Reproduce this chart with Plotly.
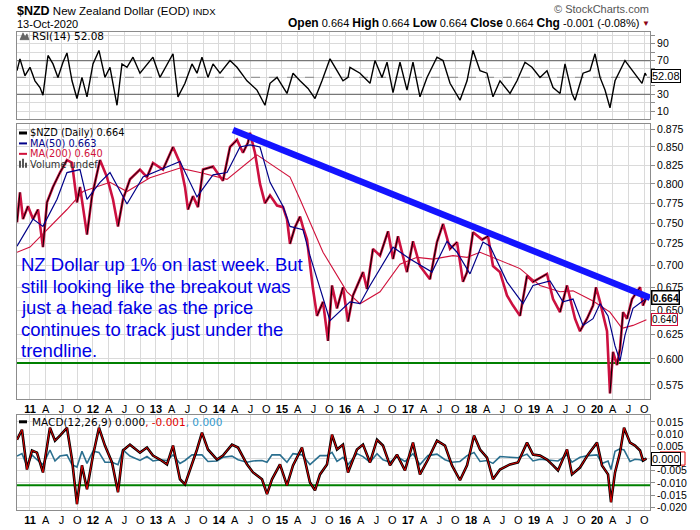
import math
import plotly.graph_objects as go

# ---------------- data (time in decimal years) ----------------
price_t = [2010.794, 2010.841, 2010.889, 2010.968, 2011.048, 2011.127, 2011.206, 2011.270, 2011.365, 2011.476,
           2011.587, 2011.667, 2011.746, 2011.794, 2011.905, 2011.984, 2012.111, 2012.222, 2012.317, 2012.397,
           2012.476, 2012.587, 2012.746, 2012.857, 2012.952, 2013.111, 2013.270, 2013.381, 2013.460, 2013.508,
           2013.587, 2013.667, 2013.746, 2013.905, 2014.063, 2014.175, 2014.286, 2014.381, 2014.460, 2014.492,
           2014.571, 2014.651, 2014.730, 2014.810, 2014.921, 2015.016, 2015.079, 2015.127, 2015.206, 2015.286,
           2015.333, 2015.397, 2015.492, 2015.556, 2015.651, 2015.730, 2015.794, 2015.873, 2015.968, 2016.048,
           2016.127, 2016.286, 2016.349, 2016.444, 2016.556, 2016.683, 2016.762, 2016.841, 2016.984, 2017.079,
           2017.190, 2017.349, 2017.460, 2017.556, 2017.667, 2017.778, 2017.873, 2017.937, 2018.032, 2018.175,
           2018.270, 2018.349, 2018.460, 2018.571, 2018.667, 2018.778, 2018.889, 2018.984, 2019.206, 2019.302,
           2019.413, 2019.524, 2019.651, 2019.730, 2019.841, 2019.937, 2019.984, 2020.048, 2020.159, 2020.206,
           2020.254, 2020.317, 2020.365, 2020.413, 2020.476, 2020.556, 2020.683, 2020.730, 2020.784]
price_v = [0.751, 0.789, 0.755, 0.771, 0.755, 0.767, 0.721, 0.776, 0.796, 0.815,
           0.832, 0.828, 0.776, 0.796, 0.736, 0.784, 0.832, 0.809, 0.780, 0.746,
           0.780, 0.806, 0.819, 0.809, 0.828, 0.819, 0.850, 0.828, 0.796, 0.767,
           0.784, 0.770, 0.819, 0.823, 0.804, 0.850, 0.860, 0.842, 0.856, 0.870,
           0.842, 0.800, 0.775, 0.785, 0.772, 0.770, 0.755, 0.725, 0.745, 0.758,
           0.745, 0.730, 0.673, 0.644, 0.659, 0.618, 0.677, 0.652, 0.675, 0.638,
           0.666, 0.692, 0.673, 0.719, 0.711, 0.740, 0.707, 0.734, 0.692, 0.728,
           0.699, 0.684, 0.727, 0.749, 0.719, 0.727, 0.681, 0.692, 0.739, 0.730,
           0.734, 0.699, 0.692, 0.666, 0.655, 0.644, 0.688, 0.681, 0.690, 0.662,
           0.648, 0.677, 0.641, 0.628, 0.641, 0.655, 0.675, 0.659, 0.628, 0.567,
           0.607, 0.594, 0.610, 0.648, 0.641, 0.662, 0.675, 0.655, 0.664]

ma50_t = [2010.794, 2011.048, 2011.206, 2011.429, 2011.587, 2011.794, 2011.905, 2012.111, 2012.270, 2012.540,
          2012.794, 2013.063, 2013.381, 2013.651, 2013.905, 2014.127, 2014.333, 2014.492, 2014.651, 2014.810,
          2015.016, 2015.127, 2015.333, 2015.444, 2015.762, 2016.079, 2016.238, 2016.397, 2016.762, 2017.032,
          2017.381, 2017.619, 2017.778, 2017.984, 2018.190, 2018.302, 2018.571, 2018.825, 2018.984, 2019.254,
          2019.460, 2019.619, 2019.778, 2019.937, 2020.048, 2020.175, 2020.286, 2020.365, 2020.444, 2020.571,
          2020.784]
ma50_v = [0.722, 0.755, 0.746, 0.780, 0.815, 0.819, 0.780, 0.802, 0.815, 0.774,
          0.809, 0.819, 0.830, 0.783, 0.812, 0.815, 0.850, 0.853, 0.850, 0.802,
          0.771, 0.746, 0.742, 0.711, 0.639, 0.659, 0.657, 0.677, 0.721, 0.707,
          0.692, 0.728, 0.715, 0.690, 0.727, 0.722, 0.681, 0.657, 0.677, 0.682,
          0.659, 0.662, 0.634, 0.641, 0.657, 0.644, 0.613, 0.598, 0.624, 0.652,
          0.663]

ma200_t = [2010.794, 2011.000, 2011.587, 2011.841, 2012.270, 2012.540, 2012.905, 2013.381, 2013.698, 2014.127,
           2014.603, 2015.127, 2015.286, 2015.651, 2016.032, 2016.238, 2016.556, 2016.873, 2017.143, 2017.397,
           2017.714, 2017.937, 2018.143, 2018.460, 2018.778, 2019.095, 2019.413, 2019.619, 2019.937, 2020.206,
           2020.397, 2020.571, 2020.784]
ma200_v = [0.715, 0.721, 0.767, 0.790, 0.802, 0.790, 0.808, 0.821, 0.815, 0.806,
           0.839, 0.809, 0.780, 0.715, 0.670, 0.657, 0.670, 0.701, 0.709, 0.707,
           0.711, 0.709, 0.715, 0.705, 0.696, 0.677, 0.670, 0.671, 0.660, 0.648,
           0.631, 0.634, 0.640]

trend_t = [2014.222, 2020.841]
trend_v = [0.874, 0.6634]
support_level = 0.596

rsi_t = [2010.794, 2010.841, 2010.921, 2011.000, 2011.079, 2011.159, 2011.206, 2011.286, 2011.365, 2011.444,
         2011.524, 2011.587, 2011.667, 2011.746, 2011.825, 2011.905, 2012.000, 2012.095, 2012.190, 2012.270,
         2012.381, 2012.460, 2012.540, 2012.635, 2012.746, 2012.857, 2012.952, 2013.063, 2013.175, 2013.270,
         2013.349, 2013.460, 2013.571, 2013.651, 2013.730, 2013.825, 2013.905, 2014.016, 2014.175, 2014.286,
         2014.444, 2014.603, 2014.730, 2014.810, 2014.921, 2015.079, 2015.175, 2015.286, 2015.413, 2015.524,
         2015.635, 2015.762, 2015.873, 2015.968, 2016.048, 2016.079, 2016.238, 2016.397, 2016.476, 2016.587,
         2016.667, 2016.762, 2016.873, 2016.984, 2017.079, 2017.190, 2017.302, 2017.460, 2017.556, 2017.667,
         2017.825, 2017.937, 2018.032, 2018.143, 2018.254, 2018.349, 2018.460, 2018.619, 2018.730, 2018.857,
         2018.968, 2019.095, 2019.206, 2019.302, 2019.413, 2019.492, 2019.603, 2019.651, 2019.778, 2019.889,
         2019.968, 2020.048, 2020.127, 2020.206, 2020.286, 2020.365, 2020.444, 2020.524, 2020.635, 2020.714,
         2020.762, 2020.784]
rsi_v = [58, 72, 52, 62, 46, 38, 29, 76, 66, 50,
         68, 79, 46, 25, 50, 27, 66, 82, 50, 62,
         17, 66, 62, 74, 55, 66, 74, 50, 66, 78,
         27, 43, 66, 55, 74, 50, 66, 55, 70, 62,
         46, 35, 17, 43, 50, 31, 55, 46, 37, 25,
         46, 72, 58, 46, 50, 62, 55, 43, 70, 50,
         68, 32, 68, 35, 68, 27, 50, 74, 70, 43,
         23, 46, 82, 58, 55, 27, 46, 31, 46, 68,
         62, 50, 58, 38, 31, 66, 31, 23, 55, 58,
         78, 50, 35, 14, 46, 58, 70, 62, 50, 43,
         55, 52.08]

macd_t = [2010.794, 2010.873, 2010.952, 2011.032, 2011.111, 2011.206, 2011.317, 2011.397, 2011.476, 2011.587,
          2011.667, 2011.746, 2011.825, 2011.905, 2012.000, 2012.095, 2012.190, 2012.302, 2012.397, 2012.476,
          2012.587, 2012.746, 2012.857, 2012.952, 2013.063, 2013.175, 2013.270, 2013.381, 2013.460, 2013.571,
          2013.651, 2013.730, 2013.825, 2013.968, 2014.063, 2014.206, 2014.302, 2014.444, 2014.540, 2014.683,
          2014.762, 2014.841, 2014.968, 2015.079, 2015.175, 2015.317, 2015.444, 2015.524, 2015.603, 2015.714,
          2015.794, 2015.873, 2015.968, 2016.048, 2016.190, 2016.286, 2016.397, 2016.508, 2016.603, 2016.714,
          2016.825, 2016.952, 2017.079, 2017.190, 2017.317, 2017.460, 2017.587, 2017.698, 2017.825, 2017.937,
          2018.048, 2018.143, 2018.254, 2018.349, 2018.460, 2018.619, 2018.746, 2018.889, 2018.984, 2019.095,
          2019.206, 2019.302, 2019.381, 2019.524, 2019.603, 2019.730, 2019.857, 2020.000, 2020.079, 2020.175,
          2020.222, 2020.286, 2020.365, 2020.429, 2020.524, 2020.603, 2020.683, 2020.730, 2020.784]
macd_v = [0.0077, 0.0118, -0.0045, 0.0033, 0.0024, -0.0057, 0.0126, 0.0073, 0.0094, 0.0126,
          -0.0004, -0.0187, -0.0028, -0.0126, 0.0012, 0.0126, 0.0053, -0.0016, -0.0138, 0.0033,
          0.0057, 0.0024, 0.0045, 0.0012, -0.0004, -0.0024, 0.0053, -0.0085, -0.0106, -0.0024,
          0.0037, 0.0106, 0.0037, -0.0004, 0.0012, 0.0057, 0.0045, -0.0024, -0.0057, -0.0085,
          -0.0146, -0.0085, -0.0024, -0.0110, -0.0028, 0.0045, -0.0098, -0.0130, -0.0065, -0.0024,
          0.0098, 0.0037, 0.0057, -0.0057, 0.0037, 0.0057, -0.0016, 0.0077, 0.0053, -0.0028,
          0.0016, -0.0049, 0.0065, -0.0065, -0.0004, 0.0073, 0.0053, -0.0028, -0.0089, -0.0028,
          0.0094, 0.0037, 0.0004, -0.0085, -0.0045, -0.0024, -0.0016, 0.0065, 0.0016, 0.0012,
          -0.0004, -0.0028, -0.0049, 0.0037, -0.0065, -0.0037, 0.0016, 0.0065, -0.0028, -0.0065,
          -0.0179, -0.0057, 0.0024, 0.0126, 0.0065, 0.0053, 0.0033, -0.0008, 0.0000]
macd_hist = [0.0010, 0.0020, -0.0030, 0.0015, -0.0005, -0.0025, 0.0035, -0.0010, 0.0010, 0.0015,
             -0.0025, -0.0035, 0.0030, -0.0020, 0.0030, 0.0025, -0.0015, -0.0015, -0.0025, 0.0035,
             0.0010, -0.0008, 0.0008, -0.0010, -0.0005, -0.0008, 0.0015, -0.0020, -0.0008, 0.0015,
             0.0015, 0.0015, -0.0012, -0.0010, 0.0005, 0.0010, -0.0005, -0.0015, -0.0010, -0.0008,
             -0.0015, 0.0015, 0.0015, -0.0015, 0.0020, 0.0015, -0.0025, -0.0008, 0.0012, 0.0012,
             0.0025, -0.0012, 0.0005, -0.0025, 0.0020, 0.0008, -0.0015, 0.0020, -0.0005, -0.0015,
             0.0008, -0.0012, 0.0020, -0.0025, 0.0012, 0.0018, -0.0005, -0.0015, -0.0012, 0.0012,
             0.0025, -0.0012, -0.0008, -0.0020, 0.0008, 0.0005, 0.0003, 0.0018, -0.0010, -0.0003,
             -0.0005, -0.0008, -0.0010, 0.0015, -0.0015, 0.0005, 0.0012, 0.0015, -0.0020, -0.0010,
             -0.0045, 0.0030, 0.0040, 0.0035, -0.0012, -0.0003, -0.0005, -0.0010, 0.0002]
macd_support = -0.011

years = list(range(2011, 2021))
month_letters = ["A", "J", "O"]

# ---------------- layout helpers ----------------
W, H = 700, 530
def px(x):
    return x / W
def py(y):
    return 1 - y / H

T_RANGE = [2010.794, 2020.841]
tickvals_x, ticktext_x = [], []
for y in years:
    tickvals_x.append(y); ticktext_x.append("<b>%02d</b>" % (y % 100))
    for k, m in enumerate(month_letters):
        tickvals_x.append(y + 0.25 * (k + 1)); ticktext_x.append(m)

GRID = "#dadada"
FRAME = "#8c8c8c"
RED = "#cc1040"
NAVY = "#000088"
CRIMSON = "#d0103a"
ARIAL = "Liberation Sans, Arial, sans-serif"
VERD = "DejaVu Sans, Verdana, sans-serif"

fig = go.Figure()

# RSI panel
for lvl, dash, col in [(70, "solid", "#777"), (30, "solid", "#777"), (50, "dash", "#999")]:
    fig.add_trace(go.Scatter(x=T_RANGE, y=[lvl, lvl], mode="lines", line=dict(color=col, width=1.2, dash=dash),
                             xaxis="x", yaxis="y", hoverinfo="skip"))
fig.add_trace(go.Scatter(x=rsi_t, y=rsi_v, mode="lines", line=dict(color="black", width=1.4),
                         xaxis="x", yaxis="y", name="RSI"))

# Main panel
fig.add_trace(go.Scatter(x=T_RANGE, y=[support_level, support_level], mode="lines",
                         line=dict(color="#008000", width=2), xaxis="x2", yaxis="y2", hoverinfo="skip"))
fig.add_trace(go.Scatter(x=ma200_t, y=ma200_v, mode="lines", line=dict(color=CRIMSON, width=1.1),
                         xaxis="x2", yaxis="y2", name="MA200"))
fig.add_trace(go.Scatter(x=price_t, y=price_v, mode="lines", line=dict(color=RED, width=2.6),
                         xaxis="x2", yaxis="y2", name="$NZD"))
up_t, up_v = [], []
for i in range(len(price_v) - 1):
    if price_v[i + 1] > price_v[i]:
        up_t += [price_t[i], price_t[i + 1], None]
        up_v += [price_v[i], price_v[i + 1], None]
fig.add_trace(go.Scatter(x=up_t, y=up_v, mode="lines", line=dict(color="black", width=1.0),
                         xaxis="x2", yaxis="y2", hoverinfo="skip", connectgaps=False))
fig.add_trace(go.Scatter(x=ma50_t, y=ma50_v, mode="lines", line=dict(color=NAVY, width=1.2),
                         xaxis="x2", yaxis="y2", name="MA50"))
fig.add_trace(go.Scatter(x=trend_t, y=trend_v, mode="lines", line=dict(color="#1414ff", width=6.5),
                         xaxis="x2", yaxis="y2", hoverinfo="skip"))

# MACD panel
fig.add_trace(go.Scatter(x=T_RANGE, y=[macd_support, macd_support], mode="lines",
                         line=dict(color="#008000", width=2), xaxis="x3", yaxis="y3", hoverinfo="skip"))
fig.add_trace(go.Scatter(x=macd_t, y=macd_hist, mode="lines", line=dict(color="#2a6f8f", width=1.6),
                         xaxis="x3", yaxis="y3", name="Hist"))
fig.add_trace(go.Scatter(x=macd_t, y=macd_v, mode="lines", line=dict(color="black", width=2.6),
                         xaxis="x3", yaxis="y3", name="MACD"))
fig.add_trace(go.Scatter(x=macd_t, y=macd_v, mode="lines", line=dict(color="#e00000", width=1),
                         xaxis="x3", yaxis="y3", name="Signal"))

xcommon = dict(range=T_RANGE, tickmode="array", tickvals=tickvals_x, ticktext=ticktext_x,
               showgrid=True, gridcolor=GRID, gridwidth=1, zeroline=False, showline=True,
               linecolor=FRAME, linewidth=1, mirror=True, ticks="",
               tickfont=dict(family=ARIAL, size=11, color="black"), domain=[px(17), px(650)])
ycommon = dict(side="right", showgrid=True, gridcolor=GRID, zeroline=False, showline=True,
               linecolor=FRAME, linewidth=1, mirror=True, ticks="outside", ticklen=4, tickcolor=FRAME,
               tickfont=dict(family=ARIAL, size=10.5, color="black"), tickmode="array")

rsi_ticks = list(range(10, 101, 10))
rsi_text = [str(v) if v in (10, 30, 70, 90) else "" for v in rsi_ticks]
main_ticks = [0.575, 0.6, 0.625, 0.65, 0.675, 0.7, 0.725, 0.75, 0.775, 0.8, 0.825, 0.85, 0.875]
main_text = ["%.3f" % v for v in main_ticks]
macd_ticks = [-0.02, -0.015, -0.01, -0.005, 0.0, 0.005, 0.01, 0.015]
macd_text = ["%.3f" % v if v != 0 else "" for v in macd_ticks]

fig.update_layout(
    width=W, height=H, autosize=False, margin=dict(l=0, r=0, t=0, b=0),
    paper_bgcolor="white", plot_bgcolor="white", showlegend=False,
    xaxis=dict(xcommon, anchor="y", showticklabels=False),
    xaxis2=dict(xcommon, anchor="y2", matches="x", showticklabels=True),
    xaxis3=dict(xcommon, anchor="y3", matches="x", showticklabels=True),
    yaxis=dict(ycommon, anchor="x", domain=[py(119), py(31)], range=[0.6, 104.1],
               tickvals=rsi_ticks, ticktext=rsi_text),
    yaxis2=dict(ycommon, anchor="x2", domain=[py(401), py(124)], type="log",
                range=[math.log10(0.5618), math.log10(0.8826)], tickvals=main_ticks, ticktext=main_text),
    yaxis3=dict(ycommon, anchor="x3", domain=[py(513), py(417)], range=[-0.02114, 0.01789],
                tickvals=macd_ticks, ticktext=macd_text),
)

ann = []
def text(x, y, s, size=11, color="black", family=ARIAL, xanchor="left", **kw):
    ann.append(dict(xref="paper", yref="paper", x=px(x), y=py(y), text=s, showarrow=False,
                    xanchor=xanchor, yanchor="middle", font=dict(size=size, color=color, family=family), **kw))

# header
text(15, 10, "<b><span style='font-size:12.5px'>$NZD</span></b> New Zealand Dollar (EOD) <span style='font-size:9.5px'>INDX</span>", size=11.5)
text(15, 23, "13-Oct-2020", size=11)
text(641, 22, "<b><span style='font-size:12px'>Open</span></b> 0.664 <b><span style='font-size:12px'>High</span></b> 0.664 "
              "<b><span style='font-size:12px'>Low</span></b> 0.664 <b><span style='font-size:12px'>Close</span></b> 0.664 "
              "<b><span style='font-size:12px'>Chg</span></b> -0.001 (-0.08%)", size=11, xanchor="right")
text(646, 23, "▼", size=8, color="#8b0015", xanchor="center")
text(651, 8, "© StockCharts.com", size=11, color="#555555", xanchor="right")

# RSI label
text(30, 35, "RSI(14) 52.08", size=10.5, family=VERD)
# main legend
LEG = 9.8
text(29, 133, "$NZD (Daily) 0.664", size=LEG, family=VERD, borderpad=0)
text(29, 143.5, "MA(50) 0.663", size=LEG, family=VERD, color=NAVY, borderpad=0)
text(29, 154, "MA(200) 0.640", size=LEG, family=VERD, color=CRIMSON, borderpad=0)
text(29, 164.5, "Volume undef", size=LEG, family=VERD, color="#333333", borderpad=0)
# MACD label
text(30, 424, "MACD(12,26,9) 0.000<span style='color:#e00000'>, -0.001</span><span style='color:#3399cc'>, 0.000</span>",
     size=10.5, family=VERD)

# commentary
for i, line in enumerate(["NZ Dollar up 1% on last week. But",
                          "still looking like the breakout was",
                          "just a head fake as the price",
                          "continues to track just under the",
                          "trendline."]):
    text(20, 265.5 + i * 21.7, line, size=18.5, color="#0000e6", borderpad=0)

# value boxes on right axes
ann.append(dict(xref="paper", yref="y", x=px(651), y=52.08, text="52.08", showarrow=False, xanchor="left",
                yanchor="middle", bordercolor="black", borderwidth=1, borderpad=0, bgcolor="white",
                font=dict(family=ARIAL, size=11, color="black")))
ann.append(dict(xref="paper", yref="y2", x=px(651), y=math.log10(0.664), text="<b>0.664</b>", showarrow=False,
                xanchor="left", yanchor="middle", bordercolor="black", borderwidth=1.5, borderpad=0,
                bgcolor="white", font=dict(family=ARIAL, size=10.5, color="black")))
ann.append(dict(xref="paper", yref="y2", x=px(651), y=math.log10(0.640), text="0.640", showarrow=False,
                xanchor="left", yanchor="middle", bordercolor=CRIMSON, borderwidth=1, borderpad=0,
                bgcolor="white", font=dict(family=ARIAL, size=10, color="black")))
ann.append(dict(xref="paper", yref="y3", x=px(651), y=0.0, text="0.000", showarrow=False,
                xanchor="left", yanchor="middle", bordercolor="black", borderwidth=1, borderpad=0,
                bgcolor="white", font=dict(family=ARIAL, size=11, color="black")))

fig.update_layout(annotations=ann)

# legend markers and decorations (paper space)
shapes = []
def seg(x0, x1, y, color, w):
    shapes.append(dict(type="line", xref="paper", yref="paper", x0=px(x0), x1=px(x1), y0=py(y), y1=py(y),
                       line=dict(color=color, width=w)))
seg(19, 27, 133, "black", 3)
seg(19, 27, 143.5, NAVY, 2)
seg(19, 27, 154, CRIMSON, 2)
seg(19, 27, 424, "black", 3)
for (a, b, top) in [(19, 21, 161), (22, 24, 159), (25, 27, 163)]:
    shapes.append(dict(type="rect", xref="paper", yref="paper", x0=px(a), x1=px(b), y0=py(168), y1=py(top),
                       fillcolor="#555555", line=dict(width=0)))
# red signal box edge behind the MACD value box
shapes.append(dict(type="rect", xref="paper", yref="y3", x0=px(660), x1=px(685), y0=-0.0027, y1=0.0027,
                   fillcolor="white", line=dict(color="#e00000", width=1), layer="below"))
# RSI icon
shapes.append(dict(type="path", xref="paper", yref="paper",
                   path="M %f,%f L %f,%f L %f,%f L %f,%f L %f,%f Z" % (
                       px(20), py(39), px(23), py(32), px(25), py(36), px(27), py(33), px(29), py(39)),
                   fillcolor="#666666", line=dict(color="#444444", width=0.5)))
fig.update_layout(shapes=shapes)

fig.write_html("out.html")
